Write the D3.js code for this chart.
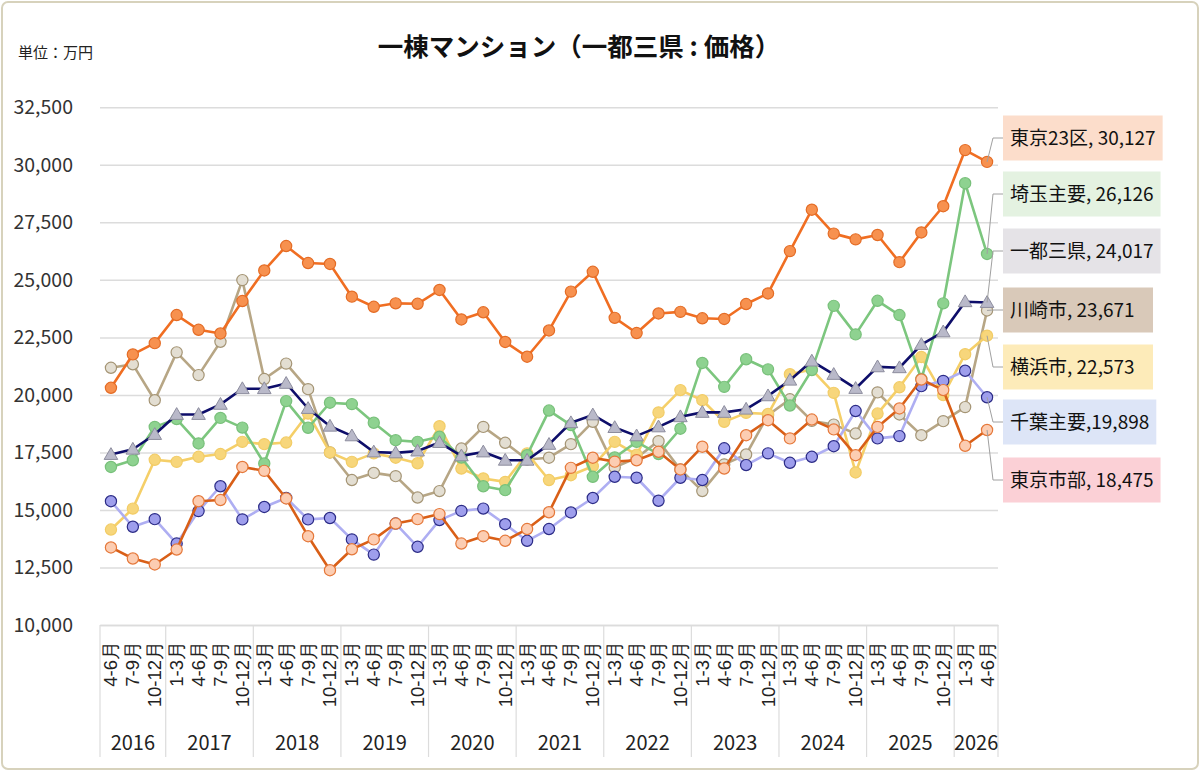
<!DOCTYPE html>
<html><head><meta charset="utf-8">
<script src="https://cdn.jsdelivr.net/npm/d3@7"></script>
<style>
html,body{margin:0;padding:0;background:#fff;}
svg{display:block;font-family:"Noto Sans CJK JP","Noto Sans",sans-serif;}
</style></head>
<body><svg id="c" width="1200" height="772"></svg>
<script>
const years = ["2016","2017","2018","2019","2020","2021","2022","2023","2024","2025","2026"];
const yearQuarters = [
  ["4-6月","7-9月","10-12月"],
  ["1-3月","4-6月","7-9月","10-12月"],
  ["1-3月","4-6月","7-9月","10-12月"],
  ["1-3月","4-6月","7-9月","10-12月"],
  ["1-3月","4-6月","7-9月","10-12月"],
  ["1-3月","4-6月","7-9月","10-12月"],
  ["1-3月","4-6月","7-9月","10-12月"],
  ["1-3月","4-6月","7-9月","10-12月"],
  ["1-3月","4-6月","7-9月","10-12月"],
  ["1-3月","4-6月","7-9月","10-12月"],
  ["1-3月","4-6月"]
];
const yTicks = [10000,12500,15000,17500,20000,22500,25000,27500,30000,32500];

const tokyo23 = [20310,21760,22250, 23470,22830,22670,24080, 25410,26470,25730,25690, 24270,23830,23980,23960, 24560,23280,23590,22300, 21660,22800,24490,25350, 23350,22690,23540,23610, 23330,23300,23950,24410, 26250,28050,27010,26760, 26950,25770,27060,28200, 30640,30127];
const saitama = [16870,17160,18610, 18950,17890,19000,18580, 17020,19730,18570,19660, 19600,18790,18030,17960, 18180,17280,16030,15860, 17380,19320,18690,16440, 17280,17960,17430,18530, 21390,20350,21550,21110, 19540,21080,23870,22630, 24090,23470,20690,23980, 29200,26126];
const ittosanken = [17410,17640,18280, 19150,19150,19590,20270, 20270,20500,19410,18640, 18220,17520,17480,17560, 17930,17350,17520,17160, 17160,17850,18790,19130, 18580,18220,18610,19050, 19240,19240,19380,19960, 20640,21470,20890,20280, 21220,21180,22190,22740, 24050,24017];
const kawasaki = [21180,21330,19770, 21850,20860,22310,24990, 20690,21360,20250,17500, 16300,16610,16470,15540, 15820,17670,18610,17920, 17190,17270,17860,18830, 16850,17270,17990,16760, 15820,16980,17410,19120, 19810,18870,18710,18320, 20110,19150,18250,18860, 19470,23671];
const yokohama = [14150,15060,17180, 17090,17310,17430,17960, 17860,17930,19190,17500, 17090,17460,17270,17030, 18640,16800,16370,16220, 17460,16300,16510,16900, 17960,17400,19240,20210, 19770,18830,19220,19170, 20900,21100,20090,16630, 19190,20330,21650,19990, 21770,22573];
const chiba = [15380,14270,14600, 13540,14950,16030,14590, 15130,15520,14590,14650, 13720,13060,14410,13400, 14560,14960,15060,14380, 13660,14170,14890,15520, 16440,16400,15400,16400, 16300,17680,16950,17460, 17050,17310,17770,19300, 18110,18210,20380,20610, 21050,19898];
const tokyoShibu = [13370,12890,12630, 13280,15380,15430,16870, 16700,15500,13860,12380, 13290,13720,14410,14600, 14820,13540,13860,13660, 14170,14900,16830,17270, 17100,17160,17530,16760, 17750,16800,18250,18900, 18110,18930,18500,17380, 18610,19410,20670,20210, 17790,18475];

const seriesNames = ["東京23区","埼玉主要","一都三県","川崎市","横浜市","千葉主要","東京市部"];
const seriesValues = [tokyo23, saitama, ittosanken, kawasaki, yokohama, chiba, tokyoShibu];

const styles = {
  "東京23区": {line:"#F06E22", fill:"#F7914F", stroke:"#E46C25", shape:"circle", box:"#FCDDCB"},
  "埼玉主要": {line:"#7CC67E", fill:"#8ED290", stroke:"#78C07A", shape:"circle", box:"#E4F2E1"},
  "一都三県": {line:"#0E0E6A", fill:"#B9B9C9", stroke:"#8D8D9E", shape:"triangle", box:"#E5E3E7"},
  "川崎市":   {line:"#B7A685", fill:"#E3DED2", stroke:"#A49474", shape:"circle", box:"#D9C9B9"},
  "横浜市":   {line:"#F5CF68", fill:"#F7D67B", stroke:"#F2CC66", shape:"circle", box:"#FDEBB9"},
  "千葉主要": {line:"#AEAEF2", fill:"#9E9EEC", stroke:"#2B2B86", shape:"circle", box:"#DDE5F7"},
  "東京市部": {line:"#D95F17", fill:"#FCCDB2", stroke:"#E5783A", shape:"circle", box:"#FBD0D6"}
};

const categories = [];
yearQuarters.forEach((qs, yi) => qs.forEach(q => categories.push({year: years[yi], q})));
const idx = categories.map((d,i)=>i);

const svg = d3.select("#c");
const W = 1200, H = 772;
const L = 100, R = 998, T = 107.3, B = 625;

svg.append("rect").attr("x",2).attr("y",2).attr("width",W-4).attr("height",H-5)
  .attr("rx",6).attr("fill","#fff").attr("stroke","#D7D2BC").attr("stroke-width",2);

const x = d3.scaleBand().domain(idx).range([L,R]).padding(0);
const y = d3.scaleLinear().domain([10000,32500]).range([B,T]);

svg.append("text").attr("x",579).attr("y",56).attr("text-anchor","middle")
  .attr("font-size",25.5).attr("font-weight","bold").attr("fill","#111")
  .text("一棟マンション（一都三県 : 価格）");
svg.append("text").attr("x",18).attr("y",58).attr("font-size",15).attr("fill","#222").text("単位：万円");

const grid = svg.append("g").attr("transform",`translate(${L},0)`)
  .call(d3.axisLeft(y).tickValues(yTicks).tickSize(-(R-L)).tickFormat(""));
grid.select(".domain").remove();
grid.selectAll("line").attr("stroke","#DCDCDC").attr("stroke-width",1.5);

const ya = svg.append("g").attr("transform",`translate(${L},0)`)
  .call(d3.axisLeft(y).tickValues(yTicks).tickSize(0).tickPadding(27).tickFormat(d3.format(",")));
ya.select(".domain").remove();
ya.selectAll("text").attr("font-size",19.5).attr("fill","#333").attr("font-family","'Noto Sans CJK JP',sans-serif");

const xa = svg.append("g").attr("transform",`translate(0,${B})`)
  .call(d3.axisBottom(x).tickSize(0).tickFormat(i => categories[i].q));
xa.select(".domain").attr("stroke","#DCDCDC").attr("stroke-width",1.5);
xa.selectAll("text").attr("font-size",18.5).attr("fill","#222")
  .attr("text-anchor","end").attr("dy","0.35em")
  .attr("transform","translate(0,16) rotate(-90)").attr("x",0).attr("y",0);

let start = 0;
const yearStarts = [];
yearQuarters.forEach((qs, yi) => { yearStarts.push({yi, s:start, n:qs.length}); start += qs.length; });
const divX = yearStarts.map(d => x(d.s)).concat([R]);
svg.append("g").selectAll("line").data(divX).join("line")
  .attr("x1",d=>d).attr("x2",d=>d).attr("y1",B).attr("y2",757)
  .attr("stroke","#DCDCDC").attr("stroke-width",1.2);
svg.append("g").selectAll("text").data(yearStarts).join("text")
  .attr("x",d => x(d.s) + d.n*x.bandwidth()/2).attr("y",750)
  .attr("text-anchor","middle").attr("font-size",20).attr("fill","#222")
  .text(d => years[d.yi]);

const drawOrder = ["川崎市","横浜市","埼玉主要","千葉主要","東京市部","一都三県","東京23区"];
const cx = i => x(i) + x.bandwidth()/2;
const line = d3.line().x((d,i)=>cx(i)).y(d=>y(d));
drawOrder.forEach(name => {
  const vals = seriesValues[seriesNames.indexOf(name)];
  const st = styles[name];
  const g = svg.append("g");
  g.append("path").datum(vals).attr("d",line).attr("fill","none")
    .attr("stroke",st.line).attr("stroke-width",2.6).attr("stroke-linejoin","round");
  if (st.shape === "circle") {
    g.selectAll("circle").data(vals).join("circle")
      .attr("cx",(d,i)=>cx(i)).attr("cy",d=>y(d)).attr("r",5.6)
      .attr("fill",st.fill).attr("stroke",st.stroke).attr("stroke-width",1.2);
  } else {
    const tri = d3.symbol().type(d3.symbolTriangle).size(80);
    g.selectAll("path.m").data(vals).join("path").attr("class","m")
      .attr("d",tri).attr("transform",(d,i)=>`translate(${cx(i)},${y(d)+1})`)
      .attr("fill",st.fill).attr("stroke",st.stroke).attr("stroke-width",1);
  }
});

const boxCenters = [138,194,251,310,367,422,480];
const fmt = d3.format(",");
seriesNames.forEach((name, k) => {
  const vals = seriesValues[k];
  const last = vals[vals.length-1];
  const st = styles[name];
  const px = cx(vals.length-1), py = y(last);
  const by = boxCenters[k];
  svg.append("path")
    .attr("d",`M${px},${py} L993,${by} L1003,${by}`)
    .attr("fill","none").attr("stroke","#A0A0A0").attr("stroke-width",1);
  const label = name === "千葉主要" ? `${name},${fmt(last)}` : `${name}, ${fmt(last)}`;
  const g = svg.append("g");
  const t = g.append("text").attr("x",1010).attr("y",by).attr("dy","0.36em")
    .attr("font-size",19).attr("fill","#111").text(label);
  const bw = t.node().getComputedTextLength();
  g.insert("rect","text").attr("x",1003).attr("y",by-22.5)
    .attr("width",Math.max(bw+14,150)).attr("height",45).attr("fill",st.box);
});
</script></body></html>
